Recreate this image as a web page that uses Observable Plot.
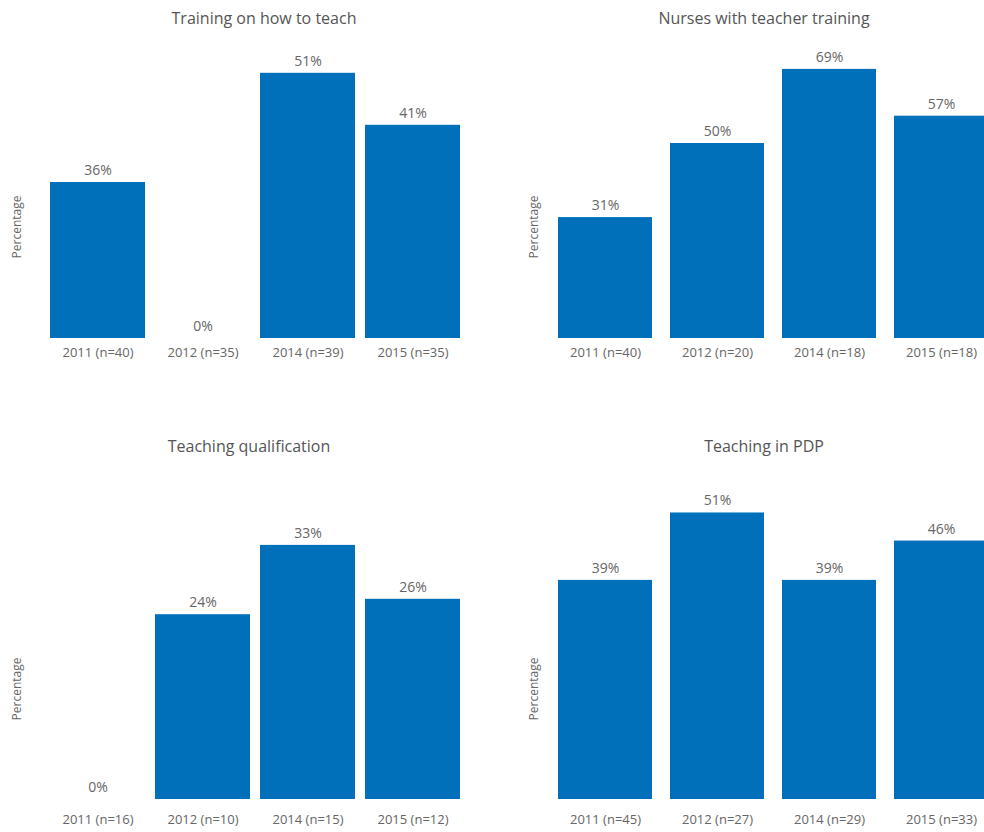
<!DOCTYPE html>
<html>
<head>
<meta charset="utf-8">
<script src="https://cdn.jsdelivr.net/npm/d3@7"></script>
<script src="https://cdn.jsdelivr.net/npm/@observablehq/plot@0.6"></script>
<style>
  html, body { margin: 0; padding: 0; background: #fff; overflow: hidden; }
  #root { position: relative; width: 984px; height: 832px; overflow: hidden; font-family: "Open Sans", sans-serif; }
  .panel { position: absolute; }
  .panel svg { max-width: none !important; }
  .title { position: absolute; transform: translate(-50%, -50%); white-space: nowrap; font-size: 16px; color: #555; }
  .ylab { position: absolute; transform: translate(-50%, -50%) rotate(-90deg); white-space: nowrap; font-size: 12px; color: #666; }
</style>
</head>
<body>
<div id="root"></div>
<script>
// ---- Data ----
const titles = ["Training on how to teach", "Nurses with teacher training", "Teaching qualification", "Teaching in PDP"];

const categories1 = ["2011 (n=40)", "2012 (n=35)", "2014 (n=39)", "2015 (n=35)"];
const values1 = [30, 0, 51, 41];           // bar heights as drawn
const labels1 = ["36%", "0%", "51%", "41%"]; // printed labels

const categories2 = ["2011 (n=40)", "2012 (n=20)", "2014 (n=18)", "2015 (n=18)"];
const values2 = [31, 50, 69, 57];
const labels2 = ["31%", "50%", "69%", "57%"];

const categories3 = ["2011 (n=16)", "2012 (n=10)", "2014 (n=15)", "2015 (n=12)"];
const values3 = [0, 24, 33, 26];
const labels3 = ["0%", "24%", "33%", "26%"];

const categories4 = ["2011 (n=45)", "2012 (n=27)", "2014 (n=29)", "2015 (n=33)"];
const values4 = [39, 51, 39, 46];
const labels4 = ["39%", "51%", "39%", "46%"];

const yLabel = "Percentage";
const barColor = "#0070ba";

// ---- Layout ----
const panels = [
  {cats: categories1, vals: values1, labs: labels1, title: titles[0],
   left: 0, top: 0, width: 492, height: 370, mt: 26, mb: 32, ml: 50, mr: 31, pad: 0.095, ymax: 60, tp: 9,
   tx: 264, ty: 18, lx: 16, ly: 227},
  {cats: categories2, vals: values2, labs: labels2, title: titles[1],
   left: 492, top: 0, width: 500, height: 370, mt: 26, mb: 32, ml: 65, mr: 2, pad: 0.157, ymax: 80, tp: 9,
   tx: 764, ty: 18, lx: 533, ly: 227},
  {cats: categories3, vals: values3, labs: labels3, title: titles[2],
   left: 0, top: 420, width: 492, height: 412, mt: 71, mb: 33, ml: 50, mr: 31, pad: 0.095, ymax: 40, tp: 15,
   tx: 249, ty: 446, lx: 16, ly: 689},
  {cats: categories4, vals: values4, labs: labels4, title: titles[3],
   left: 492, top: 420, width: 500, height: 412, mt: 70, mb: 33, ml: 65, mr: 2, pad: 0.157, ymax: 55, tp: 15,
   tx: 764, ty: 446, lx: 533, ly: 689}
];

const root = document.getElementById("root");

for (const p of panels) {
  const data = p.cats.map((c, i) => ({cat: c, value: p.vals[i], label: p.labs[i]}));
  const chart = Plot.plot({
    width: p.width,
    height: p.height,
    marginTop: p.mt,
    marginBottom: p.mb,
    marginLeft: p.ml,
    marginRight: p.mr,
    style: {fontFamily: "Open Sans, sans-serif", fontSize: "13px", color: "#666", background: "transparent", overflow: "visible", maxWidth: "none"},
    x: {domain: p.cats, paddingInner: p.pad, paddingOuter: 0, label: null},
    y: {domain: [0, p.ymax], axis: null},
    marks: [
      Plot.barY(data, {x: "cat", y: "value", fill: barColor}),
      Plot.text(data, {x: "cat", y: "value", text: "label", dy: -12, fontSize: 14, fill: "#666"}),
      Plot.axisX({tickSize: 0, tickPadding: p.tp, fontSize: 13, label: null, fill: "#666"})
    ]
  });
  chart.setAttribute("width", p.width);
  chart.setAttribute("height", p.height);
  chart.style.width = p.width + "px";
  chart.style.height = p.height + "px";
  const div = document.createElement("div");
  div.className = "panel";
  div.style.left = p.left + "px";
  div.style.top = p.top + "px";
  div.style.width = p.width + "px";
  div.style.height = p.height + "px";
  div.appendChild(chart);
  root.appendChild(div);

  const t = document.createElement("div");
  t.className = "title";
  t.style.left = p.tx + "px";
  t.style.top = p.ty + "px";
  t.textContent = p.title;
  root.appendChild(t);

  const yl = document.createElement("div");
  yl.className = "ylab";
  yl.style.left = p.lx + "px";
  yl.style.top = p.ly + "px";
  yl.textContent = yLabel;
  root.appendChild(yl);
}
</script>
</body>
</html>
